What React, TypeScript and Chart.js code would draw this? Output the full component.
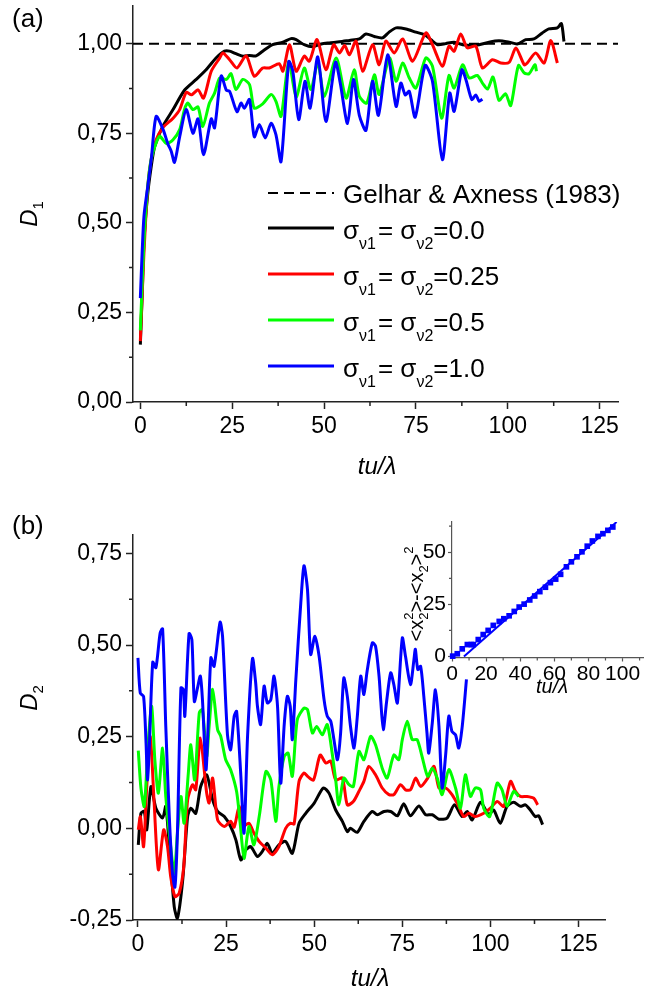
import React, { useEffect, useRef } from "react";
import { Chart, registerables } from "chart.js";
Chart.register(...registerables);

const FONT = "'Liberation Sans', Arial, Helvetica, sans-serif";
type P = [number, number];

// ---------- Panel (a): D1 vs tu/lambda ----------
const aBlack: P[] = [[0,0.16],[0.5,0.3],[1,0.45],[2,0.58],[3,0.66],[3.9,0.713],[6.1,0.769],[8.9,0.816],[12,0.87],[15.2,0.9],[17.9,0.927],[20.6,0.96],[22.9,0.979],[24.3,0.979],[26,0.972],[27.9,0.965],[29.7,0.967],[31.5,0.966],[33.3,0.979],[36,0.997],[38.8,1.004],[41,1.014],[42.4,1.011],[44.6,0.997],[46.9,0.991],[49.2,0.999],[51.4,1.002],[54.2,1.005],[56.9,1.009],[59.6,1.013],[61.4,1.027],[63.7,1.02],[65.9,1.016],[67.7,1.032],[69.6,1.044],[72.3,1.041],[75,1.032],[77.3,1.025],[79.1,1.011],[80.9,0.997],[83.1,1.0],[85.4,1.004],[87.7,0.997],[90.4,0.995],[92.2,0.997],[94.9,1.004],[97.6,1.008],[100.4,1.004],[102.6,0.999],[104.9,1.011],[107.1,1.013],[109.4,1.03],[111.2,1.041],[113.5,1.044],[114.6,1.056],[115.3,1.006]];
const aRed: P[] = [[0,0.17],[0.5,0.3],[1,0.42],[2,0.6],[3,0.68],[4.3,0.732],[6.1,0.765],[8.9,0.792],[10.7,0.816],[12.5,0.864],[13.9,0.857],[15.7,0.871],[17.2,0.848],[19.3,0.923],[21.6,0.96],[22.5,0.974],[24.3,0.955],[26.3,0.932],[28.8,0.966],[31,0.909],[33.3,0.932],[35.1,0.932],[37.8,0.944],[38.8,0.923],[40.6,0.997],[42.4,0.923],[44.6,0.965],[46,0.951],[48.1,1.011],[50.5,0.927],[52.6,0.997],[54.2,0.974],[55.6,0.995],[56.9,0.969],[58.7,1.007],[60.5,0.923],[63.2,0.997],[65,0.941],[66.8,1.007],[69.1,0.974],[71.4,1.013],[74.1,0.951],[77.7,1.03],[79.5,0.997],[82.2,0.937],[84,0.993],[85.4,0.979],[87.2,1.027],[89,0.988],[91.3,0.993],[93.1,0.932],[95.8,0.955],[98.1,0.946],[100.4,0.948],[102.2,0.988],[104.5,0.941],[105.3,0.946],[107.6,0.974],[109.9,0.946],[111.7,1.009],[113.5,0.946]];
const aGreen: P[] = [[0,0.2],[1,0.45],[2,0.6],[3,0.68],[5.2,0.741],[7.1,0.721],[8.9,0.732],[10.7,0.76],[12,0.816],[12.9,0.834],[14.3,0.816],[15.7,0.823],[17,0.769],[18.8,0.834],[20.2,0.862],[21.6,0.904],[23.4,0.9],[24.7,0.916],[26,0.872],[27.9,0.9],[29.7,0.886],[31,0.82],[33.3,0.832],[35.6,0.858],[36.9,0.839],[38.3,0.797],[40.4,0.95],[42.4,0.851],[44.6,0.932],[46.4,0.872],[48.3,0.946],[50.1,0.853],[53.3,0.96],[56,0.848],[58.2,0.927],[59.6,0.853],[61.6,0.834],[63.7,0.913],[65,0.858],[67.8,0.96],[69.6,0.895],[71.4,0.946],[73.2,0.904],[75,0.876],[77.7,0.96],[79.5,0.937],[82,0.792],[84,0.911],[85.4,0.876],[87.7,0.941],[89.5,0.904],[91.7,0.911],[93.1,0.89],[94.5,0.873],[96,0.907],[97.6,0.842],[99.4,0.86],[100.8,0.827],[102.9,0.939],[104.5,0.918],[105.8,0.916],[107.4,0.941],[107.8,0.923]];
const aBlue: P[] = [[0,0.29],[0.5,0.42],[1,0.52],[2,0.6],[3,0.68],[4.3,0.797],[6.2,0.76],[7.5,0.72],[8.4,0.7],[9.3,0.669],[10.7,0.74],[12.5,0.816],[14.3,0.75],[15.7,0.79],[17.2,0.69],[19.3,0.79],[20.2,0.765],[22,0.91],[23.4,0.87],[24.3,0.867],[26.3,0.81],[27.4,0.834],[28.3,0.82],[29.7,0.844],[31,0.74],[32.4,0.774],[34,0.737],[35.6,0.778],[36.9,0.746],[38.3,0.671],[40.4,0.95],[41.5,0.923],[43.1,0.788],[44.8,0.895],[46.2,0.82],[48.3,0.963],[50.5,0.783],[53.1,0.948],[54.4,0.89],[56.4,0.777],[58,0.9],[59.6,0.8],[61.4,0.758],[63.2,0.895],[64.8,0.8],[67.3,0.969],[69.6,0.825],[70.9,0.89],[72.1,0.857],[73.2,0.867],[74.8,0.795],[77.5,0.939],[79.5,0.895],[82.2,0.676],[84.2,0.862],[85.4,0.811],[87.5,0.927],[88.6,0.9],[90.2,0.844],[91.3,0.857],[92.2,0.839],[93.1,0.845]];
const gelharLevel = 1.0;

// ---------- Panel (b): D2 vs tu/lambda ----------
const bBlack: P[] = [[0.1,-0.045],[0.85,0.041],[1.8,0.046],[2.5,-0.004],[3.7,0.114],[5.1,0.055],[7,0.028],[7.9,0.06],[8.9,-0.05],[10.3,-0.214],[11.2,-0.245],[12.7,-0.141],[14.1,0.032],[15,0.055],[16.4,0.041],[17.8,0.114],[19.5,0.146],[21.2,0.078],[22.6,0.046],[24.5,0.032],[26.3,0.005],[27.8,-0.032],[29.2,-0.086],[30.6,-0.059],[32,-0.05],[33.9,-0.077],[35.3,-0.063],[36.7,-0.041],[38.1,-0.068],[40,-0.045],[41.9,-0.036],[43.8,-0.068],[45.7,0.014],[47.6,0.041],[50,0.069],[52.6,0.11],[54.2,0.096],[56.1,0.05],[58,0.019],[59.4,-0.009],[60.3,0],[62.2,-0.011],[64.1,0.019],[66.5,0.046],[67.9,0.037],[69.8,0.046],[71.7,0.046],[73.6,0.034],[75.4,0.067],[77.3,0.034],[79.7,0.061],[81.6,0.037],[83.5,0.037],[85.4,0.025],[87.7,0.028],[89.8,0.064],[92,0.032],[93.4,0.046],[94.8,0.023],[97.2,0.071],[99.5,0.037],[100.9,0.05],[102.8,0.014],[104.7,0.06],[106.6,0.071],[108.5,0.06],[109.9,0.064],[111.3,0.05],[112.7,0.032],[113.7,0.034],[114.8,0.01]];
const bRed: P[] = [[0.1,-0.004],[0.7,0.032],[1.6,-0.05],[2.5,0.114],[3.5,0.25],[4.6,0.069],[5.8,-0.113],[7.3,-0.004],[8.4,-0.05],[9.3,-0.132],[10.5,-0.186],[11.7,-0.177],[13,-0.104],[14.1,0.078],[15.5,0.119],[16.4,0.105],[17.7,0.246],[19.5,0.096],[20.2,0.069],[21.2,0.137],[22.6,0.023],[24.5,0.005],[26.3,0.019],[27.3,0.003],[28.7,0.06],[29.6,0.005],[31.5,0.014],[32.9,-0.013],[34.4,-0.036],[36.3,-0.054],[38.1,-0.072],[40,-0.05],[41.9,0],[43.3,0.014],[44.3,0.012],[45.7,0.128],[47.1,0.151],[48.1,0.142],[49.8,0.132],[51.7,0.2],[53.3,0.178],[54.7,0.183],[56.1,0.132],[58,0.137],[59.4,0.064],[61.1,0.073],[62.7,0.101],[64.1,0.128],[65.5,0.169],[67.4,0.146],[69.3,0.11],[71.2,0.092],[72.6,0.092],[74.5,0.119],[75.9,0.105],[77.3,0.105],[78.8,0.137],[80.2,0.114],[82.2,0.137],[84,0.169],[85.4,0.11],[87.3,0.11],[89.1,0.092],[91,0.06],[92.4,0.032],[93.9,0.041],[95.7,0.032],[98.1,0.041],[100,0.055],[101.9,0.073],[103.8,0.06],[105.7,0.128],[107.1,0.101],[108.5,0.087],[110.4,0.087],[112.3,0.082],[113.4,0.064]];
const bGreen: P[] = [[0.1,0.212],[0.85,0.11],[1.8,0.06],[2.9,0.233],[3.9,0.333],[4.8,0.187],[5.8,0.096],[7,0.219],[7.9,0.087],[9.2,-0.041],[10.3,-0.123],[11.2,-0.013],[12.2,0.087],[13.1,0.014],[14.3,0.151],[15,0.228],[16.1,0.132],[17.4,0.315],[18.3,0.324],[19.5,0.196],[20.2,0.278],[21.2,0.379],[22.6,0.269],[23.5,0.251],[24.9,0.187],[26.3,0.16],[28,0.1],[29,0.014],[30.1,-0.082],[31.5,0.005],[32.9,-0.045],[34.4,0.032],[36.3,0.155],[37.7,0.132],[39.1,0.019],[40,0.114],[41.5,0.196],[42.6,0.205],[43.8,0.142],[45.2,0.296],[47.1,0.328],[48.1,0.324],[49.5,0.26],[50.7,0.278],[52.3,0.255],[53.7,0.283],[55.1,0.205],[56.1,0.132],[57,0.064],[58.4,0.137],[59.9,0.119],[61.1,0.114],[62.7,0.21],[64.1,0.187],[66,0.251],[67.4,0.228],[69.3,0.164],[70.7,0.137],[72.6,0.2],[74,0.187],[75,0.242],[76.4,0.292],[77.8,0.242],[79.2,0.242],[80.6,0.196],[82.2,0.142],[83.5,0.164],[84.9,0.137],[86.3,0.092],[88.2,0.16],[90.1,0.11],[91.5,0.055],[92.9,0.146],[94.3,0.087],[95.7,0.11],[97.2,0.105],[98.1,0.055],[99.8,0.032],[101.9,0.123],[103.3,0.105],[104.7,0.06],[106.6,0.101],[108,0.087]];
const bBlue: P[] = [[0,0.465],[0.66,0.369],[1.6,0.36],[2.3,0.233],[2.7,0.132],[3.2,0.214],[4.2,0.453],[5.1,0.438],[6.3,0.533],[7,0.544],[7.9,0.278],[8.9,0.032],[9.8,-0.123],[10.5,-0.16],[11.2,-0.013],[12.2,0.383],[12.9,0.378],[13.3,0.306],[14.5,0.531],[15.3,0.515],[16,0.346],[16.9,0.383],[17.7,0.415],[18.3,0.351],[19.3,0.16],[19.9,0.278],[20.7,0.465],[21.6,0.442],[23.3,0.562],[24,0.524],[25.4,0.255],[26.3,0.214],[27.3,0.306],[28,0.319],[29.2,0.142],[30.1,-0.013],[31.1,0.251],[32.5,0.463],[33.4,0.397],[33.9,0.333],[34.8,0.283],[35.8,0.388],[36.7,0.342],[37.7,0.351],[38.6,0.415],[39.6,0.333],[40.5,0.123],[41.5,0.283],[42.4,0.36],[43.2,0.333],[43.8,0.242],[44.8,0.406],[46.2,0.615],[47.1,0.716],[48.1,0.651],[49,0.474],[50.2,0.524],[51.4,0.469],[52.8,0.351],[53.7,0.306],[54.7,0.292],[55.6,0.242],[56.6,0.187],[57.5,0.26],[58.4,0.41],[59.4,0.36],[60.3,0.278],[61.3,0.219],[62.2,0.301],[63.2,0.415],[64.1,0.365],[65,0.428],[66.5,0.506],[67.4,0.497],[68.4,0.415],[68.9,0.346],[69.6,0.269],[70.5,0.342],[71.7,0.424],[72.6,0.392],[73.6,0.342],[75,0.519],[75.9,0.469],[77.3,0.392],[78.3,0.46],[78.7,0.488],[79.4,0.433],[80.2,0.442],[81.1,0.36],[82,0.26],[82.5,0.205],[83.5,0.287],[84.4,0.378],[85.4,0.278],[86.3,0.11],[87.3,0.201],[88.2,0.306],[89.1,0.264],[90.1,0.255],[91,0.219],[92,0.278],[93.2,0.406]];

// ---------- Inset: variance vs tu/lambda ----------
const insetSquares: P[] = [[0.4,0.16],[3.1,1.3],[6,3.65],[9,5.7],[11.3,5.7],[12.5,5.7],[15.4,8.1],[18.3,10.5],[21.2,12.5],[24.2,14.9],[27.7,16.8],[30.4,18.1],[33.5,19.5],[36.5,21.6],[39.4,23.7],[42.3,25.1],[45.6,27.1],[48.5,29],[51.5,31.1],[54.8,33.2],[57.7,35.4],[60.8,37.1],[63.7,39.4],[67.1,43],[70,45.4],[73.3,47.8],[76.2,50.2],[79.3,52.9],[82.3,55.4],[85.6,57.6],[88.5,58.9],[91.4,60.5],[94.3,62.1]];
const insetFit: P[] = [[7,0],[96.5,64.5]];

// ---------- ticks / labels ----------
const mainXTicks = [0, 25, 50, 75, 100, 125];
const aYTicks = [0, 0.25, 0.5, 0.75, 1.0];
const bYTicks = [-0.25, 0, 0.25, 0.5, 0.75];
const aXMinor = [12.5, 37.5, 62.5, 87.5, 112.5];
const aYMinor = [0.125, 0.375, 0.625, 0.875];
const bYMinor = [-0.125, 0.125, 0.375, 0.625];
const insetXTicks = [0, 20, 40, 60, 80, 100];
const insetYTicks = [0, 25, 50];
const insetXMinor = [10, 30, 50, 70, 90, 110];
const insetYMinor = [12.5, 37.5, 62.5];
const sigmaValues = ["0.0", "0.25", "0.5", "1.0"];
const seriesColors = ["#000000", "#ff0000", "#00ff00", "#0000ff"];

const toXY = (p: P[]) => p.map(([x, y]) => ({ x, y }));

type Seg = { t: string; size: number; dy?: number; italic?: boolean; gap?: number; noAdvance?: boolean };
function drawRich(ctx: CanvasRenderingContext2D, segs: Seg[], x: number, y: number, measureOnly = false) {
  let cx = x;
  for (const s of segs) {
    ctx.font = `${s.italic ? "italic " : ""}${s.size}px ${FONT}`;
    if (!measureOnly) ctx.fillText(s.t, cx, y + (s.dy || 0));
    if (!s.noAdvance) cx += ctx.measureText(s.t).width + (s.gap || 0);
  }
  return cx - x;
}
function drawRotated(ctx: CanvasRenderingContext2D, segs: Seg[], cx: number, cy: number) {
  ctx.save();
  ctx.translate(cx, cy);
  ctx.rotate(-Math.PI / 2);
  const w = drawRich(ctx, segs, 0, 0, true);
  drawRich(ctx, segs, -w / 2, 0);
  ctx.restore();
}
function drawCentered(ctx: CanvasRenderingContext2D, segs: Seg[], cx: number, y: number) {
  const w = drawRich(ctx, segs, 0, 0, true);
  drawRich(ctx, segs, cx - w / 2, y);
}

const minorPlugin = (xs: number[], ys: number[], len: number, color: string, width: number) => ({
  id: "minorTicks",
  afterDraw(chart: any) {
    const { ctx, chartArea } = chart;
    const xs_ = chart.scales.x, ys_ = chart.scales.y;
    ctx.save();
    ctx.strokeStyle = color;
    ctx.lineWidth = width;
    ctx.beginPath();
    xs.forEach((v) => {
      const px = xs_.getPixelForValue(v);
      ctx.moveTo(px, chartArea.bottom);
      ctx.lineTo(px, chartArea.bottom + len);
    });
    ys.forEach((v) => {
      const py = ys_.getPixelForValue(v);
      ctx.moveTo(chartArea.left, py);
      ctx.lineTo(chartArea.left - len, py);
    });
    ctx.stroke();
    ctx.restore();
  },
});

function axisCfg(opts: any) {
  const { min, max, ticks, fmt, size, fontSize, isX, color, bw, tickLen, pad } = opts;
  return {
    type: "linear",
    min,
    max,
    afterBuildTicks: (s: any) => {
      s.ticks = ticks.map((v: number) => ({ value: v }));
    },
    afterFit: (s: any) => {
      if (isX) s.height = size;
      else s.width = size;
      s.paddingTop = 0;
      s.paddingBottom = 0;
      s.paddingLeft = 0;
      s.paddingRight = 0;
    },
    ticks: {
      font: { family: FONT, size: fontSize },
      color: "#000",
      padding: pad,
      maxRotation: 0,
      minRotation: 0,
      autoSkip: false,
      callback: fmt,
    },
    grid: { display: true, drawOnChartArea: false, drawTicks: true, tickLength: tickLen, tickColor: color, tickWidth: bw },
    border: { display: true, color, width: bw },
  };
}

const fmtComma = (v: number) => v.toFixed(2).replace(".", ",");
const fmtInt = (v: number) => String(v);

function lineDs(p: P[], color: string, extra: any = {}) {
  return { data: toXY(p), borderColor: color, backgroundColor: color, borderWidth: 3, pointRadius: 0, tension: 0.25, fill: false, ...extra };
}

export default function App() {
  const refA = useRef<HTMLCanvasElement>(null);
  const refB = useRef<HTMLCanvasElement>(null);
  const refI = useRef<HTMLCanvasElement>(null);

  useEffect(() => {
    const common = {
      responsive: false,
      maintainAspectRatio: false,
      devicePixelRatio: 1,
      animation: false,
      events: [],
      plugins: { legend: { display: false }, tooltip: { enabled: false } },
    };

    const textA = {
      id: "textA",
      afterDraw(chart: any) {
        const ctx = chart.ctx as CanvasRenderingContext2D;
        ctx.save();
        ctx.fillStyle = "#000";
        ctx.textBaseline = "alphabetic";
        ctx.textAlign = "left";
        drawRich(ctx, [{ t: "(a)", size: 26 }], 12, 27);
        drawRotated(ctx, [{ t: "D", size: 24, italic: true }, { t: "1", size: 15, dy: 6 }], 37, 214);
        drawCentered(ctx, [{ t: "tu/λ", size: 24, italic: true }], 377, 474);
        // legend
        const lx0 = 268, lx1 = 334, tx = 343;
        ctx.strokeStyle = "#000";
        ctx.lineWidth = 2;
        ctx.setLineDash([10, 6]);
        ctx.beginPath();
        ctx.moveTo(lx0, 193);
        ctx.lineTo(lx1, 193);
        ctx.stroke();
        ctx.setLineDash([]);
        drawRich(ctx, [{ t: "Gelhar & Axness (1983)", size: 26 }], tx, 203);
        const rows = [228, 274, 320, 366];
        rows.forEach((ly, i) => {
          ctx.strokeStyle = seriesColors[i];
          ctx.lineWidth = 3;
          ctx.beginPath();
          ctx.moveTo(lx0, ly);
          ctx.lineTo(lx1, ly);
          ctx.stroke();
          drawRich(
            ctx,
            [
              { t: "σ", size: 26 },
              { t: "ν1", size: 16, dy: 10, gap: 2 },
              { t: "= σ", size: 26 },
              { t: "ν2", size: 16, dy: 10 },
              { t: "=" + sigmaValues[i], size: 26 },
            ],
            tx,
            ly + 11
          );
        });
        ctx.restore();
      },
    };

    const textB = {
      id: "textB",
      afterDraw(chart: any) {
        const ctx = chart.ctx as CanvasRenderingContext2D;
        ctx.save();
        ctx.fillStyle = "#000";
        ctx.textBaseline = "alphabetic";
        ctx.textAlign = "left";
        drawRich(ctx, [{ t: "(b)", size: 26 }], 12, 534 - 494);
        drawRotated(ctx, [{ t: "D", size: 24, italic: true }, { t: "2", size: 15, dy: 6 }], 37, 698 - 494);
        drawCentered(ctx, [{ t: "tu/λ", size: 24, italic: true }], 370, 986 - 494);
        ctx.restore();
      },
    };

    const textI = {
      id: "textI",
      afterDraw(chart: any) {
        const ctx = chart.ctx as CanvasRenderingContext2D;
        ctx.save();
        ctx.fillStyle = "#000";
        ctx.textBaseline = "alphabetic";
        ctx.textAlign = "left";
        drawRotated(
          ctx,
          [
            { t: "<x", size: 20 },
            { t: "2", size: 13, dy: 5, noAdvance: true },
            { t: "2", size: 13, dy: -10 },
            { t: ">-<x", size: 20 },
            { t: "2", size: 13, dy: 5 },
            { t: ">", size: 20 },
            { t: "2", size: 13, dy: -10 },
          ],
          423 - 380,
          594 - 500
        );
        drawCentered(ctx, [{ t: "tu/λ", size: 20, italic: true }], 552 - 380, 693 - 500);
        ctx.restore();
      },
    };

    const axisColor = "#222";
    const chartA = new Chart(refA.current!, {
      type: "line",
      data: {
        datasets: [
          lineDs(aBlue, seriesColors[3]),
          lineDs(aGreen, seriesColors[2]),
          lineDs(aRed, seriesColors[1]),
          lineDs(aBlack, seriesColors[0]),
          lineDs([[-2, gelharLevel], [130, gelharLevel]], "#000", { borderWidth: 2, borderDash: [10, 6], tension: 0 }),
        ],
      },
      options: {
        ...common,
        layout: { padding: { left: 0, top: 6, right: 48, bottom: 0 } },
        scales: {
          x: axisCfg({ min: -2, max: 130, ticks: mainXTicks, fmt: fmtInt, size: 92, fontSize: 23, isX: true, color: axisColor, bw: 1.5, tickLen: 7, pad: 4 }),
          y: axisCfg({ min: 0, max: 1.105, ticks: aYTicks, fmt: fmtComma, size: 133, fontSize: 23, isX: false, color: axisColor, bw: 1.5, tickLen: 7, pad: 4 }),
        },
      } as any,
      plugins: [minorPlugin(aXMinor, aYMinor, 4, axisColor, 1.5), textA],
    });

    const chartB = new Chart(refB.current!, {
      type: "line",
      data: {
        datasets: [
          lineDs(bBlue, seriesColors[3]),
          lineDs(bGreen, seriesColors[2]),
          lineDs(bRed, seriesColors[1]),
          lineDs(bBlack, seriesColors[0]),
        ],
      },
      options: {
        ...common,
        layout: { padding: { left: 0, top: 41, right: 61, bottom: 0 } },
        scales: {
          x: axisCfg({ min: -1.4, max: 132.5, ticks: mainXTicks, fmt: fmtInt, size: 74, fontSize: 23, isX: true, color: axisColor, bw: 1.5, tickLen: 7, pad: 4 }),
          y: axisCfg({ min: -0.25, max: 0.8, ticks: bYTicks, fmt: fmtComma, size: 133, fontSize: 23, isX: false, color: axisColor, bw: 1.5, tickLen: 7, pad: 4 }),
        },
      } as any,
      plugins: [minorPlugin(aXMinor, bYMinor, 4, axisColor, 1.5), textB],
    });

    const insetColor = "#555";
    const chartI = new Chart(refI.current!, {
      type: "line",
      data: {
        datasets: [
          { data: toXY(insetSquares), showLine: false, pointStyle: "rect", pointRadius: 4, borderWidth: 0, backgroundColor: "#0000ff", borderColor: "#0000ff", clip: false },
          { data: toXY(insetFit), borderColor: "#0000ff", borderWidth: 2, pointRadius: 0, tension: 0, fill: false },
        ],
      },
      options: {
        ...common,
        layout: { padding: { left: 0, top: 22, right: 23, bottom: 0 } },
        scales: {
          x: axisCfg({ min: 0, max: 112, ticks: insetXTicks, fmt: fmtInt, size: 42.5, fontSize: 21, isX: true, color: insetColor, bw: 1.2, tickLen: 4, pad: 0 }),
          y: axisCfg({ min: -0.5, max: 64.5, ticks: insetYTicks, fmt: fmtInt, size: 72, fontSize: 21, isX: false, color: insetColor, bw: 1.2, tickLen: 4, pad: 2 }),
        },
      } as any,
      plugins: [minorPlugin(insetXMinor, insetYMinor, 3, insetColor, 1.2), textI],
    });

    return () => {
      chartA.destroy();
      chartB.destroy();
      chartI.destroy();
    };
  }, []);

  return (
    <div style={{ position: "absolute", left: 0, top: 0, width: 666, height: 994, background: "#fff", overflow: "hidden" }}>
      <canvas ref={refA} width={666} height={494} style={{ position: "absolute", left: 0, top: 0, width: 666, height: 494 }} />
      <canvas ref={refB} width={666} height={500} style={{ position: "absolute", left: 0, top: 494, width: 666, height: 500 }} />
      <canvas ref={refI} width={286} height={200} style={{ position: "absolute", left: 380, top: 500, width: 286, height: 200 }} />
    </div>
  );
}
